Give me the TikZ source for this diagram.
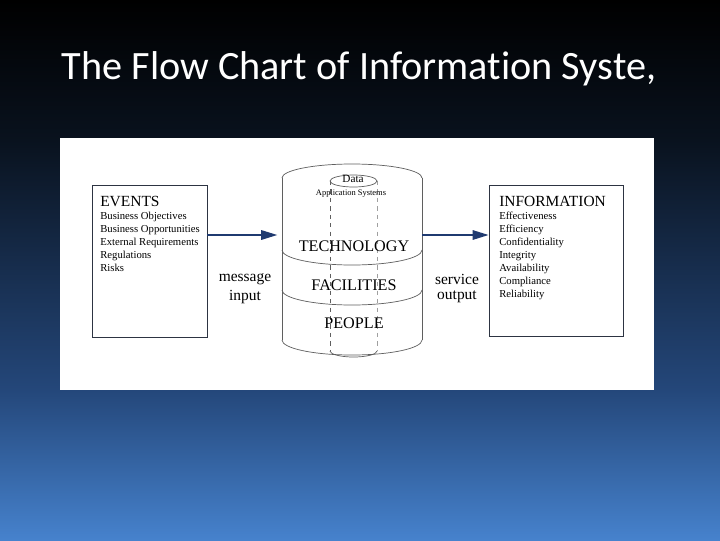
\documentclass[tikz,border=0pt]{standalone}
\usepackage{fontspec}
\setmainfont{Liberation Serif}
\newfontfamily\slidefont[Ligatures=NoCommon]{Carlito}
\usetikzlibrary{arrows.meta}
\definecolor{flownavy}{RGB}{31,58,112}
\definecolor{boxline}{RGB}{45,52,66}
\definecolor{cylgray}{RGB}{95,95,95}
\definecolor{bgbot}{RGB}{70,130,205}
\definecolor{bgmid}{RGB}{36,71,122}
\definecolor{bgdark}{RGB}{9,18,30}
\pgfdeclareverticalshading{slidebg}{100bp}{color(0bp)=(bgbot); color(25bp)=(bgbot); color(38.9bp)=(bgmid); color(62bp)=(bgdark); color(75bp)=(black); color(100bp)=(black)}

\begin{document}
\begin{tikzpicture}[x=0.025cm, y=-0.025cm,
  infobox/.style={draw=boxline, line width=0.6pt, inner sep=0pt},
  head/.style={anchor=base west, inner sep=0pt, font=\fontsize{11}{12}\selectfont},
  item/.style={anchor=base west, inner sep=0pt, font=\fontsize{7.6}{8}\selectfont},
  layer/.style={font=\fontsize{11.5}{13}\selectfont},
  side/.style={font=\fontsize{11}{13}\selectfont},
  cyl/.style={draw=cylgray, line width=0.5pt},
  flow/.style={draw=flownavy, line width=0.9pt, -{Triangle[length=4mm, width=2.4mm]}}]
\shade[shading=slidebg] (0,0) rectangle (720,540);
\useasboundingbox (0,0) rectangle (720,540);
\fill[white] (60,138) rectangle (654,390);
\node[white, anchor=base, font=\slidefont\fontsize{28.6}{32}\selectfont] (title) at (359,79) {The Flow Chart of Information Syste,};

\node[infobox, minimum width=2.875cm, minimum height=3.8cm] (events) at (149.5,261) {};
\node[head] (evhead) at (100,206) {EVENTS};
\foreach \t [count=\i from 0] in {Business Objectives, Business Opportunities, External Requirements, Regulations, Risks}
  \node[item] (ev\i) at (100,219+13*\i) {\t};

\node[infobox, minimum width=3.35cm, minimum height=3.775cm] (info) at (556,260.5) {};
\node[head] (infohead) at (499,206) {INFORMATION};
\foreach \t [count=\i from 0] in {Effectiveness, Efficiency, Confidentiality, Integrity, Availability, Compliance, Reliability}
  \node[item] (in\i) at (499,219+13*\i) {\t};

\draw[cyl] (282,178) arc[start angle=180, end angle=360, x radius=70, y radius=14];
\draw[cyl] (282,178) -- (282,340); \draw[cyl] (422,178) -- (422,340);
\foreach \y in {250,290,340}
  \draw[cyl] (282,\y) arc[start angle=180, end angle=0, x radius=70, y radius=15];
\draw[cyl] (353.5,181) ellipse [x radius=23.5, y radius=6];
\draw[cyl, dashed] (330,181) -- (330,351); \draw[cyl, dashed, draw opacity=0.6] (377,181) -- (377,351);
\draw[cyl] (330,351) arc[start angle=180, end angle=0, x radius=23.5, y radius=6];
\node[font=\fontsize{8}{9}\selectfont] (data) at (353,179) {Data};
\node[font=\fontsize{6}{7}\selectfont] (apps) at (351,193) {Application Systems};
\node[layer] (tech) at (354,246) {TECHNOLOGY};
\node[layer] (fac) at (354,285) {FACILITIES};
\node[layer] (ppl) at (354,323) {PEOPLE};

\node[side] (msg) at (245,279) {message};
\node[side] (inp) at (245,297) {input};
\node[side] (svc) at (457,279) {service};
\node[side] (outp) at (457,297) {output};

\coordinate (cylW) at (282,235); \coordinate (cylE) at (422,235);
\draw[flow, shorten >=0.12cm] (events.east |- cylW) -- (cylW);
\draw[flow] (cylE) -- (info.west |- cylE);
\end{tikzpicture}
\end{document}
